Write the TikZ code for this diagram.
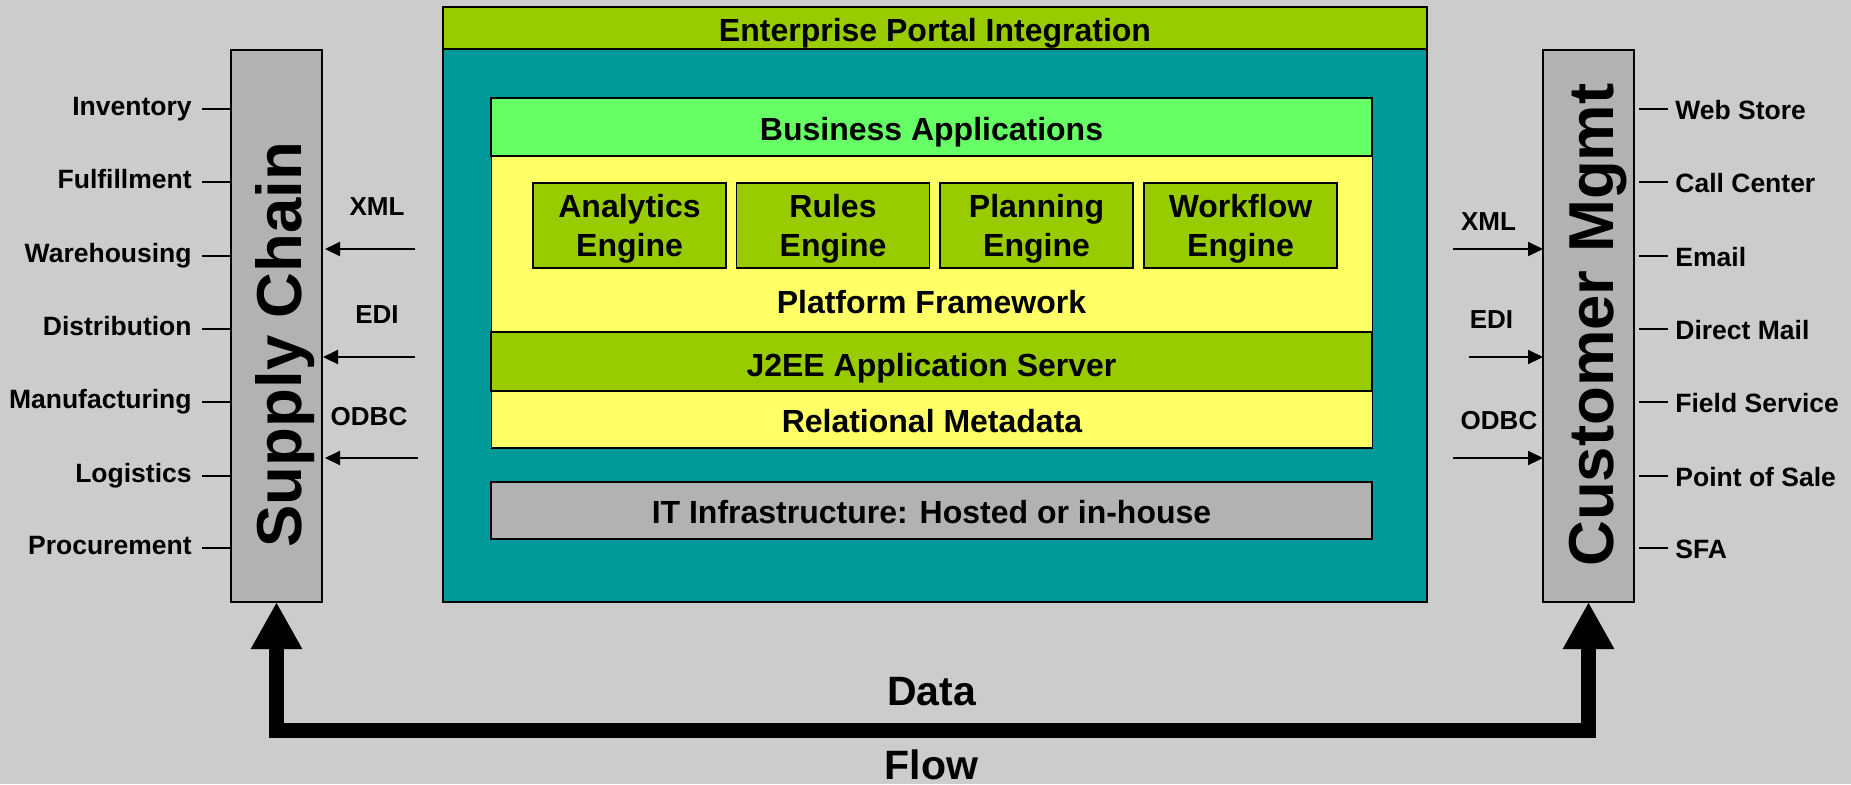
\documentclass[tikz,border=0pt]{standalone}
\usepackage{fontspec}
\setmainfont{Liberation Sans}
\usetikzlibrary{arrows.meta}
\definecolor{bgc}{HTML}{CCCCCC}
\definecolor{boxgray}{HTML}{B2B2B2}
\definecolor{tealc}{HTML}{009999}
\definecolor{limec}{HTML}{99CC00}
\definecolor{mintc}{HTML}{66FF66}
\definecolor{yellowc}{HTML}{FFFF66}
\begin{document}
\begin{tikzpicture}[x=0.5pt, y=-0.5pt,
  frame/.style={draw=black, line width=0.9pt, rectangle, inner sep=0pt, outer sep=0pt},
  midfont/.style={font=\fontsize{16pt}{19.5pt}\selectfont\bfseries},
  capbox/.style={text height=#1, text depth=0pt},
  wide/.style={minimum width=440.5pt},
  sidefont/.style={font=\fontsize{13.25pt}{16pt}\selectfont\bfseries, inner sep=0pt},
  fmtfont/.style={font=\fontsize{13pt}{16pt}\selectfont\bfseries, inner sep=0pt},
  bigfont/.style={font=\fontsize{31.75pt}{38pt}\selectfont\bfseries, inner sep=0pt},
  flowfont/.style={font=\fontsize{20.5pt}{24pt}\selectfont\bfseries, inner sep=0pt},
  stub/.style={line width=1pt},
  feed/.style={line width=1pt, -{Triangle[length=7.5pt,width=7pt]}},
  flow/.style={line width=7.5pt, line join=miter,
    {Triangle[length=23.5pt,width=24pt]}-{Triangle[length=23.5pt,width=24pt]}},
]
% canvas
\fill[bgc] (0,0) rectangle (1851,784);
\useasboundingbox (0,0) rectangle (1851,784);

% side columns
\node[frame, fill=boxgray, minimum width=45.5pt, minimum height=276pt] (sc) at (276.5,326) {};
\node[bigfont, rotate=90, anchor=base] (sctext) at (301,344.5) {Supply Chain};
\node[frame, fill=boxgray, minimum width=45.5pt, minimum height=276pt] (cm) at (1588.5,326) {};
\node[bigfont, rotate=90, anchor=base] (cmtext) at (1613,325) {Customer Mgmt};

% platform stack
\node[frame, fill=tealc, minimum width=492pt, minimum height=276.5pt] (core) at (935,325.5) {};
\node[frame, fill=limec, minimum width=492pt, minimum height=21pt, midfont, capbox=13.96pt]
  (portal) at (935,28) {Enterprise Portal Integration};
\node[frame, fill=mintc, wide, minimum height=29pt, midfont, capbox=13.2pt]
  (biz) at (931.5,127) {Business Applications};
\node[frame, fill=yellowc, wide, minimum height=88pt] (pf) at (932,244) {};
\node[midfont, anchor=base, inner sep=0pt] (pftext) at (931.5,313) {Platform Framework};
\foreach \nm/\xx/\word in {ana/629.5/Analytics, rul/833/Rules, pla/1036.5/Planning, wfl/1240.5/Workflow}
  \node[frame, fill=limec, minimum width=96.5pt, minimum height=42.5pt, midfont,
        align=center, capbox=30.96pt] (\nm) at (\xx,225.5) {\word\\Engine};
\node[frame, fill=limec, wide, minimum height=29.5pt, midfont, capbox=14.96pt]
  (j2ee) at (931.5,361.5) {J2EE Application Server};
\node[frame, fill=yellowc, wide, minimum height=28.5pt, midfont, capbox=12.96pt]
  (rel) at (932,419.5) {Relational Metadata};
\node[frame, fill=boxgray, wide, minimum height=28.5pt, midfont, capbox=13.46pt]
  (infra) at (931.5,510.5) {IT Infrastructure: Hosted or in-house};

% supply chain functions
\foreach \word/\yy [count=\i] in {Inventory/109, Fulfillment/182, Warehousing/256,
    Distribution/329, Manufacturing/402, Logistics/476, Procurement/548} {
  \node[sidefont, anchor=base east] (L\i) at (192,\yy+6) {\word};
  \coordinate (Ls\i) at (202,\yy);
  \draw[stub] (Ls\i) -- (Ls\i -| sc.west);
}
% customer channels
\foreach \word/\yy [count=\i] in {Web Store/109, Call Center/182, Email/256,
    Direct Mail/329, Field Service/402, Point of Sale/476, SFA/548} {
  \node[sidefont, anchor=base west] (R\i) at (1675,\yy+10) {\word};
  \coordinate (Rs\i) at (1668,\yy);
  \draw[stub, shorten >=2.5pt] (Rs\i) -- (Rs\i -| cm.east);
}

% interface feeds, left
\node[fmtfont, anchor=base] (lxml) at (377,215) {XML};
\node[fmtfont, anchor=base] (ledi) at (377,323) {EDI};
\node[fmtfont, anchor=base] (lodbc) at (369,425) {ODBC};
\coordinate (lxmlt) at (415,249);
\coordinate (ledit) at (415,357);
\coordinate (lodbct) at (418,458);
\draw[feed, shorten >=1.5pt] (lxmlt) -- (lxmlt -| sc.east);
\draw[feed, shorten >=0.5pt] (ledit) -- (ledit -| sc.east);
\draw[feed, shorten >=1.5pt] (lodbct) -- (lodbct -| sc.east);

% interface feeds, right
\node[fmtfont, anchor=base] (rxml) at (1488.5,230) {XML};
\node[fmtfont, anchor=base] (redi) at (1491.5,328) {EDI};
\node[fmtfont, anchor=base] (rodbc) at (1499,429) {ODBC};
\coordinate (rxmlt) at (1453,249);
\coordinate (redit) at (1469,357);
\coordinate (rodbct) at (1453,458);
\draw[feed] (rxmlt) -- (rxmlt -| cm.west);
\draw[feed] (redit) -- (redit -| cm.west);
\draw[feed] (rodbct) -- (rodbct -| cm.west);

% data flow loop
\coordinate (flowmid) at (931.5,730.5);
\draw[flow] (sc.south) |- (flowmid) -| (cm.south);
\node[flowfont, anchor=base] (data) at (931.5,705) {Data};
\node[flowfont, anchor=base] (flowlbl) at (931.5,779) {Flow};
\end{tikzpicture}
\end{document}
